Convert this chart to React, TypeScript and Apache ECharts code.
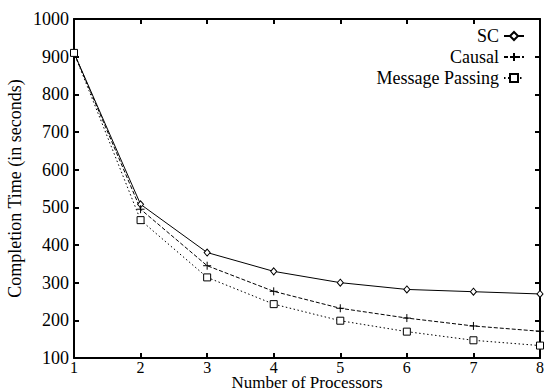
import React, { useEffect, useRef } from "react";
import * as echarts from "echarts";

const processors = [1, 2, 3, 4, 5, 6, 7, 8];
const scValues = [910, 508, 380, 330, 300, 282, 276, 270];
const causalValues = [910, 495, 345, 277, 232, 206, 185, 171];
const mpValues = [910, 466, 314, 243, 199, 170, 147, 133];
const seriesNames = ["SC", "Causal", "Message Passing"];

const FONT = "'Liberation Serif', 'Times New Roman', serif";

export default function App() {
  const ref = useRef<HTMLDivElement>(null);
  useEffect(() => {
    if (!ref.current) return;
    const chart = echarts.init(ref.current, null, { renderer: "svg" });
    const pair = (vals: number[]) => processors.map((p, i) => [p, vals[i]]);
    const plusPath = "path://M0,5L10,5M5,0L5,10";
    const sqPath = "path://M0,0L10,0L10,10L0,10Z";
    const tick = { show: true, inside: true, length: 5, lineStyle: { color: "#000", width: 2 } };
    const axisCommon = {
      axisLine: { show: true, lineStyle: { color: "#000", width: 2 } },
      splitLine: { show: false },
    };
    const fmt = (v: number) => String(v);
    chart.setOption({
      animation: false,
      backgroundColor: "#fff",
      grid: { left: 74, right: 4, top: 19, bottom: 33, containLabel: false, outerBoundsMode: "none" },
      legend: {
        orient: "vertical",
        right: 14,
        top: 22,
        align: "right",
        itemWidth: 20,
        itemHeight: 10,
        itemGap: 3,
        textStyle: { fontFamily: FONT, fontSize: 18, color: "#000" },
        data: seriesNames,
      },
      xAxis: [
        {
          type: "value",
          min: 1,
          max: 8,
          interval: 1,
          name: "Number of Processors",
          nameLocation: "middle",
          nameGap: 16,
          nameMoveOverlap: false,
          nameTextStyle: { fontFamily: FONT, fontSize: 17, color: "#000" },
          axisTick: tick,
          axisLabel: { fontFamily: FONT, fontSize: 16, color: "#000", margin: 1, formatter: fmt },
          ...axisCommon,
        },
        {
          type: "value",
          position: "top",
          min: 1,
          max: 8,
          interval: 1,
          axisTick: tick,
          axisLabel: { show: false },
          ...axisCommon,
        },
      ],
      yAxis: [
        {
          type: "value",
          min: 100,
          max: 1000,
          interval: 100,
          name: "Completion Time (in seconds)",
          nameLocation: "middle",
          nameGap: 50,
          nameMoveOverlap: false,
          nameTextStyle: { fontFamily: FONT, fontSize: 18, color: "#000" },
          axisTick: tick,
          axisLabel: { fontFamily: FONT, fontSize: 18, color: "#000", margin: 5, formatter: fmt },
          ...axisCommon,
        },
        {
          type: "value",
          position: "right",
          min: 100,
          max: 1000,
          interval: 100,
          axisTick: tick,
          axisLabel: { show: false },
          ...axisCommon,
        },
      ],
      series: [
        {
          name: seriesNames[0],
          type: "line",
          data: pair(scValues),
          symbol: "diamond",
          symbolSize: [6, 7],
          itemStyle: { color: "#fff", borderColor: "#000", borderWidth: 1 },
          lineStyle: { color: "#000", width: 1, type: "solid" },
        },
        {
          name: seriesNames[1],
          type: "line",
          data: pair(causalValues),
          symbol: plusPath,
          symbolSize: 8,
          itemStyle: { color: "none", borderColor: "#000", borderWidth: 1 },
          lineStyle: { color: "#000", width: 1, type: [4, 2] },
        },
        {
          name: seriesNames[2],
          type: "line",
          data: pair(mpValues),
          symbol: sqPath,
          symbolSize: 7,
          itemStyle: { color: "#fff", borderColor: "#000", borderWidth: 1 },
          lineStyle: { color: "#000", width: 1, type: [1.5, 2.5] },
        },
      ],
    });
    return () => chart.dispose();
  }, []);
  return (
    <div
      ref={ref}
      style={{ position: "fixed", left: 0, top: 0, width: 544, height: 391, background: "#fff" }}
    />
  );
}
